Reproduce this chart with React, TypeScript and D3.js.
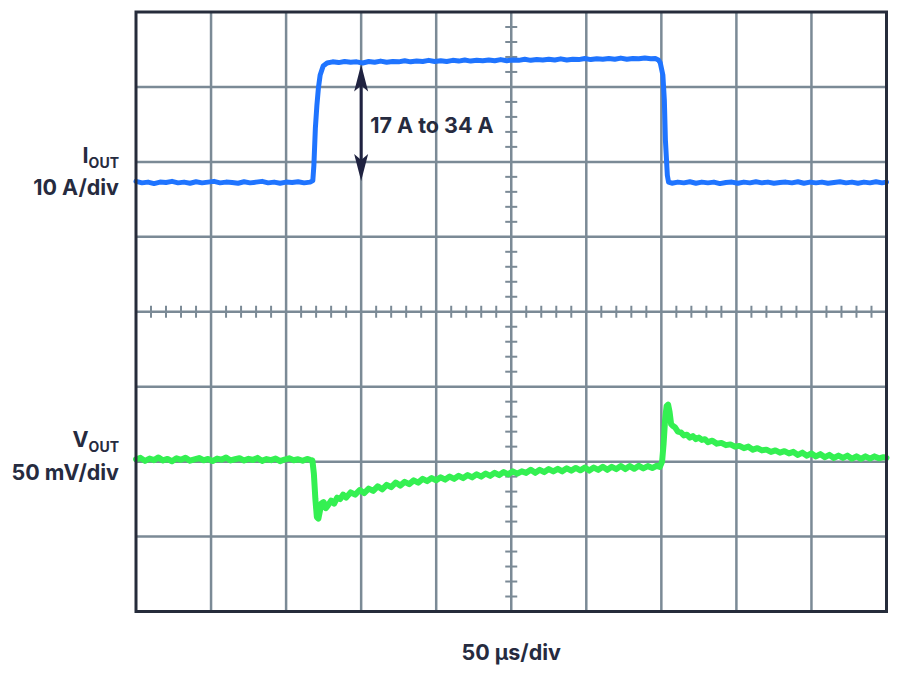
import * as d3 from 'd3'

// time in µs (50 µs/div, 10 div), current in A
const currentTrace: [number, number][] = [
  [0, 17.4], [4, 17.2], [8, 17.3], [12, 17.1], [16, 17.3], [20, 17.25], [24, 17.4], [28, 17.2],
  [32, 17.3], [36, 17.15], [40, 17.35], [44, 17.2], [48, 17.3], [52, 17.4], [56, 17.2], [60, 17.3],
  [64, 17.25], [68, 17.15], [72, 17.35], [76, 17.2], [80, 17.3], [84, 17.4], [88, 17.2], [92, 17.3],
  [96, 17.15], [100, 17.3], [104, 17.25], [108, 17.35], [112, 17.2], [116, 17.3], [117.8, 17.5],
  [118.5, 19.5], [119.5, 24.5], [120.5, 27.5], [121.5, 29.8], [122.7, 31.6], [124.7, 32.8],
  [127.3, 33.2], [131, 33.35], [135, 33.25], [139, 33.4], [143, 33.3], [147, 33.35], [151, 33.2],
  [155, 33.4], [159, 33.3], [163, 33.45], [167, 33.3], [171, 33.4], [175, 33.35], [179, 33.5],
  [183, 33.35], [187, 33.45], [191, 33.4], [195, 33.55], [199, 33.4], [203, 33.5], [207, 33.4],
  [211, 33.55], [215, 33.45], [219, 33.6], [223, 33.45], [227, 33.55], [231, 33.5], [235, 33.6],
  [239, 33.5], [243, 33.65], [247, 33.5], [251, 33.6], [255, 33.55], [259, 33.7], [263, 33.55],
  [267, 33.65], [271, 33.6], [275, 33.7], [279, 33.6], [283, 33.75], [287, 33.6], [291, 33.7],
  [295, 33.65], [299, 33.8], [303, 33.65], [307, 33.75], [311, 33.7], [315, 33.8], [319, 33.7],
  [323, 33.85], [327, 33.7], [331, 33.8], [335, 33.75], [339, 33.85], [343, 33.75], [346, 33.8],
  [348, 33.6], [349.3, 33.2], [351, 31.6], [352, 28.2], [352.7, 22.9], [354, 18.2], [354.8, 17.3],
  [357, 17.15], [361, 17.3], [365, 17.2], [369, 17.35], [373, 17.15], [377, 17.3], [381, 17.2],
  [385, 17.3], [389, 17.1], [393, 17.25], [397, 17.3], [401, 17.15], [405, 17.3], [409, 17.2],
  [413, 17.35], [417, 17.2], [421, 17.3], [425, 17.15], [429, 17.25], [433, 17.3], [437, 17.2],
  [441, 17.35], [445, 17.15], [449, 17.3], [453, 17.2], [457, 17.3], [461, 17.15], [465, 17.25],
  [469, 17.35], [473, 17.2], [477, 17.3], [481, 17.15], [485, 17.3], [489, 17.2], [493, 17.35],
  [497, 17.2], [500, 17.3]
]

// time in µs, output voltage deviation in mV
const voltageTrace: [number, number][] = [
  [0, 1.5], [3, 2.5], [6, 0.5], [9, 2], [12, 1], [15, 2.8], [18, 0.8], [21, 1.8], [24, 0.2],
  [27, 2.2], [30, 1.2], [33, 2.6], [36, 0.6], [39, 1.5], [42, 2.4], [45, 0.9], [48, 1.8],
  [51, 0.4], [54, 2], [57, 1.3], [60, 2.7], [63, 0.8], [66, 1.6], [69, 2.3], [72, 0.7],
  [75, 1.9], [78, 1.1], [81, 2.5], [84, 0.5], [87, 1.7], [90, 1], [93, 2.1], [96, 0.3],
  [99, 1.4], [102, 2.2], [105, 0.9], [108, 1.6], [111, 0.6], [114, 1.8], [116, 1.2], [117.5, 0.8],
  [118.5, -8], [119.5, -25], [120.5, -37], [121.5, -38], [122.5, -33], [123.5, -28], [125, -27],
  [126.5, -31], [128, -29], [130, -26], [132, -28], [134, -24], [136, -25], [138, -22], [140, -24],
  [143, -20.5], [146, -22], [149, -19], [152, -21], [155, -18], [158, -19.5], [161, -16.5],
  [164, -18.5], [167, -15.5], [170, -17], [173, -14], [176, -16], [179, -13.5], [182, -15],
  [185, -12.5], [188, -14], [191, -11.5], [194, -13], [197, -11], [200, -12.5], [203, -10.5],
  [206, -12], [209, -10], [212, -11.5], [215, -9.5], [218, -11], [221, -9], [224, -10.5],
  [227, -8.5], [230, -10], [233, -8], [236, -9.5], [239, -7.5], [242, -9], [245, -7], [248, -8.5],
  [251, -6.5], [254, -8], [257, -6.5], [260, -7.5], [263, -5.5], [266, -7.5], [269, -5.5],
  [272, -7], [275, -5], [278, -6.5], [281, -4.8], [284, -6.5], [287, -4.5], [290, -6], [293, -4.2],
  [296, -5.8], [299, -4], [302, -6], [305, -4], [308, -5.5], [311, -3.5], [314, -5.5], [317, -3.5],
  [320, -5], [323, -3], [326, -5], [329, -3], [332, -4.8], [335, -2.8], [338, -4.5], [341, -3],
  [344, -4.2], [347, -2.8], [349, -3.5], [350.5, 0], [351.5, 12], [352.5, 28], [353.5, 37],
  [354.5, 38], [355.5, 33], [356.5, 25], [357.5, 24], [359, 23], [361, 20], [363, 19.5],
  [365, 17.5], [367, 18], [369, 16], [371, 17], [373, 15], [375, 16], [377, 14.5], [379, 15],
  [381, 13], [384, 14], [387, 12], [390, 12.5], [393, 11], [396, 11.5], [399, 10], [402, 10.5],
  [405, 9], [408, 10], [411, 8], [414, 9], [417, 7.5], [420, 8], [423, 6.5], [426, 7.5], [429, 6],
  [432, 7], [435, 5.5], [438, 6.5], [441, 4.5], [444, 6], [447, 4], [450, 5.5], [453, 3.5],
  [456, 5], [459, 3], [462, 4.5], [465, 2.5], [468, 4], [471, 2.5], [474, 4], [477, 2],
  [480, 3.5], [483, 1.8], [486, 3.5], [489, 2], [492, 3.5], [495, 2.2], [498, 3], [500, 2.5]
]

const xDivisions = 10
const yDivisions = 8
const minorPerDiv = 5

const stepLabel = '17 A to 34 A'
const currentLevels = [17.3, 33.4] // arrow ends, A

const App = () => {
  const width = 900
  const height = 676
  const left = 136
  const right = 886.5
  const top = 12
  const bottom = 611.5

  // 50 µs/div
  const x = d3.scaleLinear().domain([0, 500]).range([left, right])
  // 10 A/div, 0 A at screen centre
  const yI = d3.scaleLinear().domain([-40, 40]).range([bottom, top])
  // 50 mV/div
  const yV = d3.scaleLinear().domain([-100, 300]).range([bottom, top])

  const divW = (right - left) / xDivisions
  const divH = (bottom - top) / yDivisions
  const cx = left + divW * 5
  const cy = top + divH * 4

  const currentLine = d3.line<[number, number]>()
    .x(d => x(d[0]))
    .y(d => yI(d[1]))
    .curve(d3.curveLinear)

  const voltageLine = d3.line<[number, number]>()
    .x(d => x(d[0]))
    .y(d => yV(d[1]))
    .curve(d3.curveLinear)

  const gridColor = '#7b8a96'
  const textColor = '#262b3f'
  const font = 'Inter, "Noto Sans", sans-serif'
  const fs = 21.5

  const vLines = d3.range(1, xDivisions).map(i => left + i * divW)
  const hLines = d3.range(1, yDivisions).map(i => top + i * divH)
  const minorX = d3.range(1, xDivisions * minorPerDiv).filter(i => i % minorPerDiv !== 0)
    .map(i => left + (i * divW) / minorPerDiv)
  const minorY = d3.range(1, yDivisions * minorPerDiv).filter(i => i % minorPerDiv !== 0)
    .map(i => top + (i * divH) / minorPerDiv)

  const arrowX = x(150)
  const arrowTop = yI(currentLevels[1]) + 3
  const arrowBottom = yI(currentLevels[0]) - 1
  const headH = 27
  const headW = 7

  return (
    <svg
      width={width}
      height={height}
      style={{ position: 'absolute', left: 0, top: 0, background: '#fff' }}
    >
      {/* grid */}
      <g stroke={gridColor} strokeWidth={2.5}>
        {vLines.map(v => <line key={'v' + v} x1={v} x2={v} y1={top} y2={bottom} />)}
        {hLines.map(h => <line key={'h' + h} x1={left} x2={right} y1={h} y2={h} />)}
        {minorX.map(m => <line key={'mx' + m} x1={m} x2={m} y1={cy - 6} y2={cy + 6} strokeWidth={2} />)}
        {minorY.map(m => <line key={'my' + m} x1={cx - 6} x2={cx + 6} y1={m} y2={m} strokeWidth={2} />)}
      </g>

      {/* traces */}
      <path d={voltageLine(voltageTrace) || ''} fill="none" stroke="#34f052" strokeWidth={6}
        strokeLinejoin="round" strokeLinecap="round" />
      <path d={currentLine(currentTrace) || ''} fill="none" stroke="#1f74ff" strokeWidth={5}
        strokeLinejoin="round" strokeLinecap="round" />

      {/* frame */}
      <rect x={left} y={top} width={right - left} height={bottom - top} fill="none"
        stroke="#262c3b" strokeWidth={3} />

      {/* step arrow */}
      <g fill="#1f2240" stroke="#1f2240">
        <line x1={arrowX} x2={arrowX} y1={arrowTop + 10} y2={arrowBottom - 10} strokeWidth={3} />
        <path d={`M${arrowX},${arrowTop} L${arrowX + headW},${arrowTop + headH} L${arrowX},${arrowTop + headH - 6} L${arrowX - headW},${arrowTop + headH} Z`} stroke="none" />
        <path d={`M${arrowX},${arrowBottom} L${arrowX + headW},${arrowBottom - headH} L${arrowX},${arrowBottom - headH + 6} L${arrowX - headW},${arrowBottom - headH} Z`} stroke="none" />
      </g>
      <text x={arrowX + 9} y={133} fontFamily={font} fontWeight={700} fontSize={fs} fill={textColor}>
        {stepLabel}
      </text>

      {/* channel labels */}
      <g fontFamily={font} fontWeight={700} fill={textColor} textAnchor="end">
        <text x={119} y={163} fontSize={fs}>
          I<tspan fontSize={14} dy={5}>OUT</tspan>
        </text>
        <text x={119} y={195} fontSize={fs}>10 A/div</text>
        <text x={119} y={447} fontSize={fs}>
          V<tspan fontSize={14} dy={5}>OUT</tspan>
        </text>
        <text x={119} y={480} fontSize={fs}>50 mV/div</text>
      </g>

      <text x={cx} y={660} fontFamily={font} fontWeight={700} fontSize={fs} fill={textColor}
        textAnchor="middle">
        50 µs/div
      </text>
    </svg>
  )
}

export default App
